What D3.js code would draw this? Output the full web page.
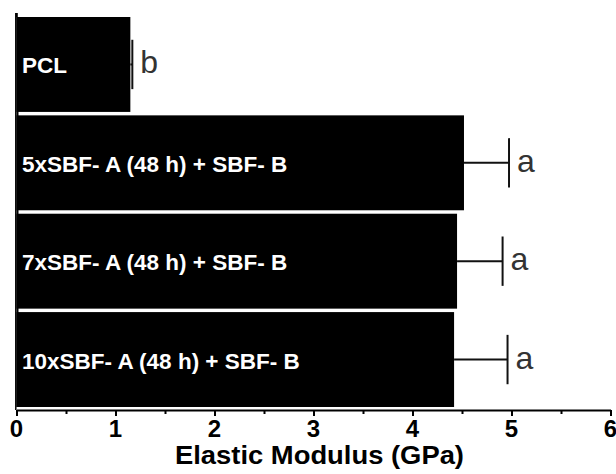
<!DOCTYPE html>
<html>
<head>
<meta charset="utf-8">
<script src="https://cdn.jsdelivr.net/npm/d3@7"></script>
<style>
  html, body { margin: 0; padding: 0; background: #fff; }
  svg { display: block; }
</style>
</head>
<body>
<svg id="chart" width="616" height="474"></svg>
<script>
const categories = ["PCL", "5xSBF- A (48 h) + SBF- B", "7xSBF- A (48 h) + SBF- B", "10xSBF- A (48 h) + SBF- B"];
const means = [1.15, 4.52, 4.45, 4.42];
const errors = [0.02, 0.455, 0.46, 0.54];
const letters = ["b", "a", "a", "a"];
const xTicks = [0, 1, 2, 3, 4, 5, 6];
const xMinorTicks = [0.5, 1.5, 2.5, 3.5, 4.5, 5.5];
const xTitle = "Elastic Modulus (GPa)";

const svg = d3.select("#chart");
const font = "'Liberation Sans', Arial, Helvetica, sans-serif";

const x = d3.scaleLinear().domain([0, 6]).range([16.5, 610.5]);
const y = d3.scaleBand().domain(categories).range([17, 407]).paddingInner(0.035).paddingOuter(0);
const axisY = 410;

const data = categories.map((c, i) => ({ c, m: means[i], e: errors[i], l: letters[i] }));

// bars
svg.append("g").selectAll("rect").data(data).join("rect")
  .attr("x", x(0))
  .attr("y", d => y(d.c))
  .attr("width", d => x(d.m) - x(0))
  .attr("height", y.bandwidth())
  .attr("fill", "#000");

// black strip along left edge between bars
svg.append("rect")
  .attr("x", x(0)).attr("y", y(categories[0]))
  .attr("width", 2).attr("height", y(categories[3]) + y.bandwidth() - y(categories[0]))
  .attr("fill", "#000");

// error bars
const eg = svg.append("g").attr("stroke", "#111").attr("stroke-width", 2).attr("fill", "none");
data.forEach(d => {
  const cy = y(d.c) + y.bandwidth() / 2;
  const half = y.bandwidth() * 0.26;
  eg.append("line").attr("x1", x(d.m)).attr("x2", x(d.m + d.e)).attr("y1", cy).attr("y2", cy);
  eg.append("line").attr("x1", x(d.m + d.e)).attr("x2", x(d.m + d.e)).attr("y1", cy - half).attr("y2", cy + half);
});

// significance letters
svg.append("g").selectAll("text").data(data).join("text")
  .attr("x", d => x(d.m + d.e) + 8)
  .attr("y", d => y(d.c) + y.bandwidth() / 2 + 9)
  .style("font-family", font)
  .style("font-size", "32px")
  .attr("fill", "#333")
  .text(d => d.l);

// bar labels
svg.append("g").selectAll("text").data(data).join("text")
  .attr("x", 22)
  .attr("y", d => y(d.c) + y.bandwidth() / 2 + 9)
  .style("font-family", font)
  .style("font-weight", "bold")
  .style("font-size", "22.5px")
  .attr("fill", "#fff")
  .text(d => d.c);

// y axis line
svg.append("line")
  .attr("x1", 15.8).attr("x2", 15.8).attr("y1", 13).attr("y2", axisY)
  .attr("stroke", "#000").attr("stroke-width", 1.5);
svg.append("rect").attr("x", 15.8).attr("y", 13).attr("width", 2).attr("height", 4).attr("fill", "#000");

// x axis (lines + ticks)
const xAxis = d3.axisBottom(x).tickValues(xTicks).tickFormat("").tickSize(6).tickSizeOuter(0);
const gx = svg.append("g").attr("transform", `translate(0,${axisY})`).call(xAxis);
gx.select(".domain").attr("stroke", "#000").attr("stroke-width", 2);
gx.selectAll(".tick line").attr("stroke", "#000").attr("stroke-width", 2);
gx.selectAll(".tick text").remove();

const xMinor = d3.axisBottom(x).tickValues(xMinorTicks).tickSize(4).tickSizeOuter(0).tickFormat("");
const gm = svg.append("g").attr("transform", `translate(0,${axisY})`).call(xMinor);
gm.select(".domain").remove();
gm.selectAll(".tick line").attr("stroke", "#000").attr("stroke-width", 2);

// tick labels
svg.append("g").selectAll("text").data(xTicks).join("text")
  .attr("x", d => x(d))
  .attr("y", 437)
  .attr("text-anchor", "middle")
  .style("font-family", "'Liberation Sans Narrow', 'Liberation Sans', Arial, sans-serif")
  .style("font-weight", "bold")
  .style("font-size", "24px")
  .attr("fill", "#000")
  .text(d => d3.format("d")(d));

// x title
svg.append("text")
  .attr("x", 319.5).attr("y", 464)
  .attr("text-anchor", "middle")
  .style("font-family", font).style("font-weight", "bold").style("font-size", "25px")
  .attr("textLength", 289).attr("lengthAdjust", "spacingAndGlyphs")
  .attr("fill", "#000")
  .text(xTitle);
</script>
</body>
</html>
